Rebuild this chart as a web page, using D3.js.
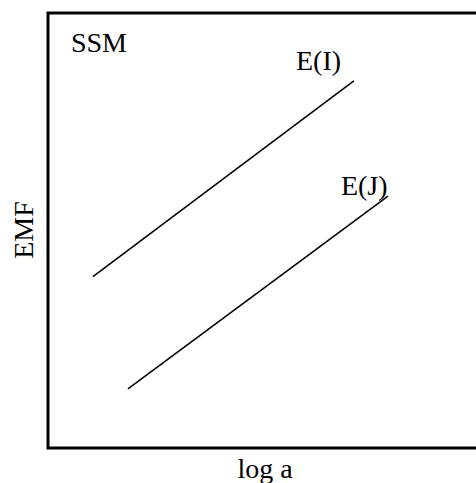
<!DOCTYPE html>
<html>
<head>
<meta charset="utf-8">
<script src="https://cdn.jsdelivr.net/npm/d3@7"></script>
<style>
  html, body { margin: 0; padding: 0; background: #fff; }
  svg { display: block; }
  text { font-family: "Liberation Serif", "Times New Roman", serif; fill: #000; }
</style>
</head>
<body>
<svg id="chart" width="476" height="483"></svg>
<script>
// Schematic EMF vs log a for two electrodes (arbitrary units)
const seriesNames = ["E(I)", "E(J)"];
const logA = [[1.04, 7.08], [1.85, 7.87]];
const emf = [[3.94, 8.44], [1.36, 5.79]];
const labelPos = [[5.74, 8.69], [6.78, 5.82]];
const panelTitle = "SSM";
const titlePos = [0.53, 9.10];
const xTitle = "log a";
const yTitle = "EMF";

const svg = d3.select("#chart");
const plot = { left: 48, top: 13, right: 480, bottom: 448 };

const x = d3.scaleLinear().domain([0, 10]).range([plot.left, plot.right]);
const y = d3.scaleLinear().domain([0, 10]).range([plot.bottom, plot.top]);

// frame (right side runs off the page)
svg.append("rect")
  .attr("x", plot.left).attr("y", plot.top)
  .attr("width", plot.right + 20 - plot.left)
  .attr("height", plot.bottom - plot.top)
  .attr("fill", "none").attr("stroke", "#000").attr("stroke-width", 3);

const line = d3.line().x(d => x(d[0])).y(d => y(d[1]));

seriesNames.forEach((name, i) => {
  const pts = logA[i].map((v, k) => [v, emf[i][k]]);
  svg.append("path")
    .datum(pts)
    .attr("d", line)
    .attr("fill", "none")
    .attr("stroke", "#000")
    .attr("stroke-width", 1.6);
  svg.append("text")
    .attr("x", x(labelPos[i][0])).attr("y", y(labelPos[i][1]))
    .attr("font-size", 28)
    .text(name);
});

svg.append("text")
  .attr("x", x(titlePos[0])).attr("y", y(titlePos[1]))
  .attr("font-size", 28)
  .text(panelTitle);

svg.append("text")
  .attr("x", 265).attr("y", 478)
  .attr("text-anchor", "middle")
  .attr("font-size", 28)
  .text(xTitle);

svg.append("text")
  .attr("transform", "translate(33,230) rotate(-90)")
  .attr("text-anchor", "middle")
  .attr("font-size", 28)
  .text(yTitle);
</script>
</body>
</html>
